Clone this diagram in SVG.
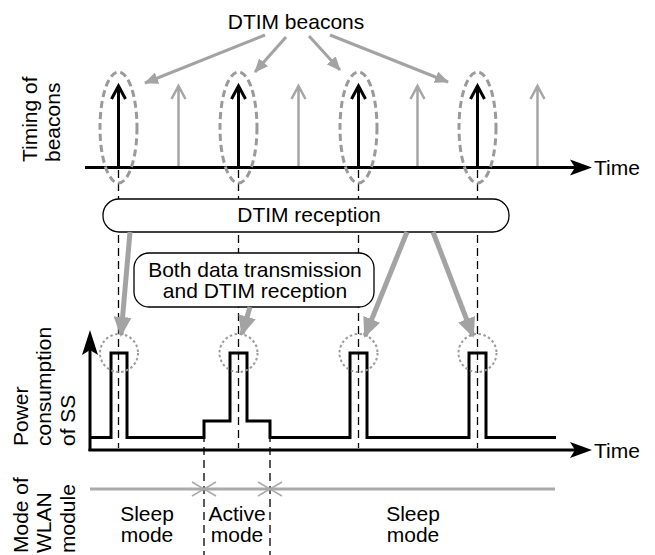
<svg xmlns="http://www.w3.org/2000/svg" width="655" height="555" viewBox="0 0 655 555">
<style>
text{font-family:"Liberation Sans",Arial,sans-serif;font-size:21px;fill:#000}
.c{text-anchor:middle}
.ax{stroke:#000;stroke-width:3;fill:none}
.head{fill:#000;stroke:none}
.vdash{stroke:#000;stroke-width:1.3;stroke-dasharray:8 5;fill:none}
.ell{fill:none;stroke:#9a9a9a;stroke-width:3;stroke-dasharray:7 4}
.dot{fill:none;stroke:#9a9a9a;stroke-width:2;stroke-dasharray:2.5 2.5}
.bk{stroke:#000;stroke-width:3;fill:none}
.gr{stroke:#a6a6a6;stroke-width:2.5;fill:none}
.ptr{stroke:#a3a3a3;stroke-width:3;fill:none;marker-end:url(#ah)}
.thick{stroke:#a3a3a3;stroke-width:5;fill:none;marker-end:url(#ahT)}
.box{fill:#fff;stroke:#000;stroke-width:1.3}
.mode{stroke:#aaa;stroke-width:3;fill:none}
.chev{stroke:#aaa;stroke-width:1.5;fill:none}
</style>
<defs>
<marker id="ah" markerUnits="userSpaceOnUse" markerWidth="14" markerHeight="12" refX="13" refY="6" orient="auto">
<path d="M0,0 L14,6 L0,12 z" fill="#a3a3a3"/>
</marker>
<marker id="ahT" markerUnits="userSpaceOnUse" markerWidth="20" markerHeight="18" refX="18" refY="9" orient="auto">
<path d="M0,0 L20,9 L0,18 z" fill="#a3a3a3"/>
</marker>
</defs>

<g id="labels">
<text x="296" y="29" class="c">DTIM beacons</text>
<text transform="translate(37,162) rotate(-90)">Timing of</text>
<text transform="translate(60,162) rotate(-90)">beacons</text>
<text transform="translate(28,446) rotate(-90)">Power</text>
<text transform="translate(51,446) rotate(-90)">consumption</text>
<text transform="translate(75,446) rotate(-90)">of SS</text>
<text transform="translate(28,553) rotate(-90)">Mode of</text>
<text transform="translate(51,553) rotate(-90)">WLAN</text>
<text transform="translate(75,553) rotate(-90)">module</text>
</g>

<g id="guides">
<line class="vdash" x1="118.5" y1="170" x2="118.5" y2="448"/>
<line class="vdash" x1="238.5" y1="170" x2="238.5" y2="448"/>
<line class="vdash" x1="358.5" y1="170" x2="358.5" y2="448"/>
<line class="vdash" x1="477.5" y1="170" x2="477.5" y2="448"/>
<line class="vdash" x1="204" y1="421" x2="204" y2="555"/>
<line class="vdash" x1="270" y1="421" x2="270" y2="555"/>
</g>

<g id="beacon-timeline">
<line class="ax" x1="85" y1="167.5" x2="578" y2="167.5"/>
<path class="head" d="M592,167.5 L570,159.5 L575,167.5 L570,175.5 Z"/>
<text x="594" y="175">Time</text>
<path class="bk" d="M118.5,167 V86 M111.5,99 L118.5,86 L125.5,99"/>
<path class="bk" d="M238.5,167 V86 M231.5,99 L238.5,86 L245.5,99"/>
<path class="bk" d="M358.5,167 V86 M351.5,99 L358.5,86 L365.5,99"/>
<path class="bk" d="M477.5,167 V86 M470.5,99 L477.5,86 L484.5,99"/>
<path class="gr" d="M178.5,166 V86 M171.5,99 L178.5,86 L185.5,99"/>
<path class="gr" d="M298.5,166 V86 M291.5,99 L298.5,86 L305.5,99"/>
<path class="gr" d="M417.5,166 V86 M410.5,99 L417.5,86 L424.5,99"/>
<path class="gr" d="M537.5,166 V86 M530.5,99 L537.5,86 L544.5,99"/>
<ellipse class="ell" cx="118.5" cy="127.5" rx="18.5" ry="55.5"/>
<ellipse class="ell" cx="238.5" cy="127.5" rx="18.5" ry="55.5"/>
<ellipse class="ell" cx="358.5" cy="127.5" rx="18.5" ry="55.5"/>
<ellipse class="ell" cx="477.5" cy="127.5" rx="18.5" ry="55.5"/>
</g>

<g id="dtim-reception">
<rect class="box" x="103" y="199" width="406" height="33" rx="16" ry="16"/>
<text x="309" y="222" class="c">DTIM reception</text>
</g>

<g id="both-box">
<rect class="box" x="134" y="253" width="240" height="54" rx="15" ry="15"/>
<text x="255" y="277" class="c">Both data transmission</text>
<text x="255" y="298" class="c">and DTIM reception</text>
</g>

<g id="connectors">
<line class="ptr" x1="265" y1="35" x2="145" y2="83"/>
<line class="ptr" x1="286" y1="37" x2="255" y2="72"/>
<line class="ptr" x1="309" y1="36" x2="340" y2="70"/>
<line class="ptr" x1="330" y1="35" x2="448" y2="82"/>
<line class="thick" x1="130" y1="232" x2="121" y2="335"/>
<line class="thick" x1="250" y1="307" x2="242" y2="334"/>
<line class="thick" x1="407" y1="232" x2="365" y2="336"/>
<line class="thick" x1="433" y1="232" x2="473" y2="336"/>
</g>

<g id="power-chart">
<line class="ax" x1="90" y1="451" x2="90" y2="345"/>
<path class="head" d="M90,330 L98,355 L90,350 L82,355 Z"/>
<line class="ax" x1="88.5" y1="450" x2="578" y2="450"/>
<path class="head" d="M592,450 L570,442 L575,450 L570,458 Z"/>
<text x="594" y="458">Time</text>
<path class="bk" stroke-linejoin="miter" d="M90,437.5 H111 V353 H127 V437.5 H204 V421 H230 V353 H247 V421 H270 V437.5 H350 V353 H367 V437.5 H469 V353 H486 V437.5 H556"/>
<circle class="dot" cx="119" cy="353" r="19"/>
<circle class="dot" cx="238.5" cy="353" r="19"/>
<circle class="dot" cx="358.5" cy="353" r="19"/>
<circle class="dot" cx="477.5" cy="353" r="19"/>
</g>

<g id="mode-chart">
<line class="mode" x1="90" y1="489" x2="555" y2="489"/>
<path class="chev" d="M192,482 L204,489 L192,496 M216,482 L204,489 L216,496"/>
<path class="chev" d="M258,482 L270,489 L258,496 M282,482 L270,489 L282,496"/>
<text x="147" y="521" class="c">Sleep</text>
<text x="147" y="542" class="c">mode</text>
<text x="237" y="521" class="c">Active</text>
<text x="237" y="542" class="c">mode</text>
<text x="413" y="521" class="c">Sleep</text>
<text x="413" y="542" class="c">mode</text>
</g>
</svg>
